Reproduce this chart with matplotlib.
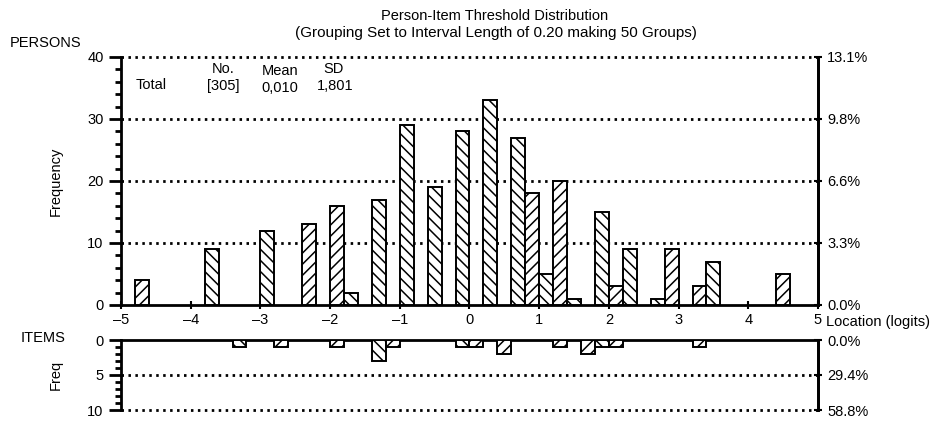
import numpy as np
import matplotlib
matplotlib.use("Agg")
import matplotlib.pyplot as plt

plt.rcParams['font.family'] = ['Liberation Sans', 'DejaVu Sans']
plt.rcParams['font.size'] = 10.5
plt.rcParams['hatch.linewidth'] = 1.1

# group centres (logits) and counts, interval length 0.2
person_loc = [-4.7, -3.7, -2.9, -2.3, -1.9, -1.7, -1.3, -0.9, -0.5, -0.1, 0.3, 0.7,
              0.9, 1.1, 1.3, 1.5, 1.9, 2.1, 2.3, 2.7, 2.9, 3.3, 3.5, 4.5]
person_freq = [4, 9, 12, 13, 16, 2, 17, 29, 19, 28, 33, 27,
               18, 5, 20, 1, 15, 3, 9, 1, 9, 3, 7, 5]
item_loc = [-3.3, -2.7, -1.9, -1.3, -1.1, -0.1, 0.1, 0.5, 1.3, 1.7, 1.9, 2.1, 3.3]
item_freq = [1, 1, 1, 3, 1, 1, 1, 2, 1, 2, 1, 1, 1]
x_ticks = [-5, -4, -3, -2, -1, 0, 1, 2, 3, 4, 5]

W, H = 939, 424
fig = plt.figure(figsize=(W / 100, H / 100), dpi=100)

def fx(x): return x / W
def fy(y): return 1 - y / H

dot = (0, (0.9, 1.6))

def hatches(locs):
    # alternate hatch direction by group index
    return ['///' if int(round((l + 4.9) / 0.2)) % 2 else '\\\\\\' for l in locs]

# ---- persons panel
ax = fig.add_axes([fx(121), fy(305), fx(818) - fx(121), fy(57) - fy(305)])
bars = ax.bar(person_loc, person_freq, width=0.2, color='white', edgecolor='black',
              linewidth=1.4, zorder=3)
for b, h in zip(bars, hatches(person_loc)):
    b.set_hatch(h)
for yv in [10, 20, 30, 40]:
    ax.axhline(yv, color='black', lw=2, ls=dot, zorder=1, clip_on=False)
ax.set_xlim(-5, 5)
ax.set_ylim(0, 40)
ax.spines['top'].set_visible(False)
for s in ['left', 'bottom', 'right']:
    ax.spines[s].set_linewidth(2)
ax.set_yticks([0, 10, 20, 30, 40])
ax.set_yticks(np.arange(0, 41, 2), minor=True)
ax.tick_params(axis='y', which='major', length=9, width=2, direction='out')
ax.tick_params(axis='y', which='minor', length=4.5, width=2, direction='out')
ax.set_xticks(x_ticks)
ax.set_xticklabels([str(t).replace('-', '\u2013') for t in x_ticks])
ax.tick_params(axis='x', length=6, width=1.5, direction='inout', pad=3)
ax.set_ylabel('Frequency', labelpad=18)

tot_p = sum(person_freq)
ax2 = ax.twinx()
ax2.set_ylim(0, 40)
ax2.set_yticks([0, 10, 20, 30, 40])
ax2.set_yticklabels(['%.1f%%' % (100 * v / tot_p) for v in [0, 10, 20, 30, 40]])
ax2.tick_params(axis='y', length=6, width=1.5, direction='inout')
for s in ['left', 'top', 'bottom']:
    ax2.spines[s].set_visible(False)
ax2.spines['right'].set_linewidth(2)

# ---- items panel
axi = fig.add_axes([fx(121), fy(410), fx(818) - fx(121), fy(340) - fy(410)])
ibars = axi.bar(item_loc, item_freq, width=0.2, color='white', edgecolor='black',
                linewidth=1.4, zorder=3)
for b, h in zip(ibars, hatches(item_loc)):
    b.set_hatch(h)
for yv in [5, 10]:
    axi.axhline(yv, color='black', lw=2, ls=dot, zorder=1, clip_on=False)
axi.set_xlim(-5, 5)
axi.set_ylim(10, 0)
axi.spines['bottom'].set_visible(False)
for s in ['left', 'top', 'right']:
    axi.spines[s].set_linewidth(2)
axi.set_xticks([])
axi.set_yticks([0, 5, 10])
axi.set_yticks(np.arange(0, 11, 1), minor=True)
axi.tick_params(axis='y', which='major', length=9, width=2, direction='out')
axi.tick_params(axis='y', which='minor', length=4.5, width=2, direction='out')
axi.set_ylabel('Freq', labelpad=18)

tot_i = sum(item_freq)
axi2 = axi.twinx()
axi2.set_ylim(10, 0)
axi2.set_yticks([0, 5, 10])
axi2.set_yticklabels(['%.1f%%' % (100 * v / tot_i) for v in [0, 5, 10]])
axi2.tick_params(axis='y', length=6, width=1.5, direction='inout')
for s in ['left', 'top', 'bottom']:
    axi2.spines[s].set_visible(False)
axi2.spines['right'].set_linewidth(2)

# ---- texts
fig.text(fx(495), fy(16), 'Person-Item Threshold Distribution', ha='center', va='center')
fig.text(fx(496), fy(33), '(Grouping Set to Interval Length of 0.20 making 50 Groups)',
         ha='center', va='center', fontsize=11)
fig.text(fx(10), fy(43), 'PERSONS', ha='left', va='center')
fig.text(fx(21), fy(338), 'ITEMS', ha='left', va='center')
fig.text(fx(826), fy(322), 'Location (logits)', ha='left', va='center')
fig.text(fx(151), fy(85), 'Total', ha='center', va='center')
fig.text(fx(223), fy(69), 'No.', ha='center', va='center')
fig.text(fx(223), fy(86), '[305]', ha='center', va='center')
fig.text(fx(280), fy(71), 'Mean', ha='center', va='center')
fig.text(fx(280), fy(88), '0,010', ha='center', va='center')
fig.text(fx(334), fy(69), 'SD', ha='center', va='center')
fig.text(fx(335), fy(86), '1,801', ha='center', va='center')

fig.savefig('out.png', dpi=100, facecolor='white')
